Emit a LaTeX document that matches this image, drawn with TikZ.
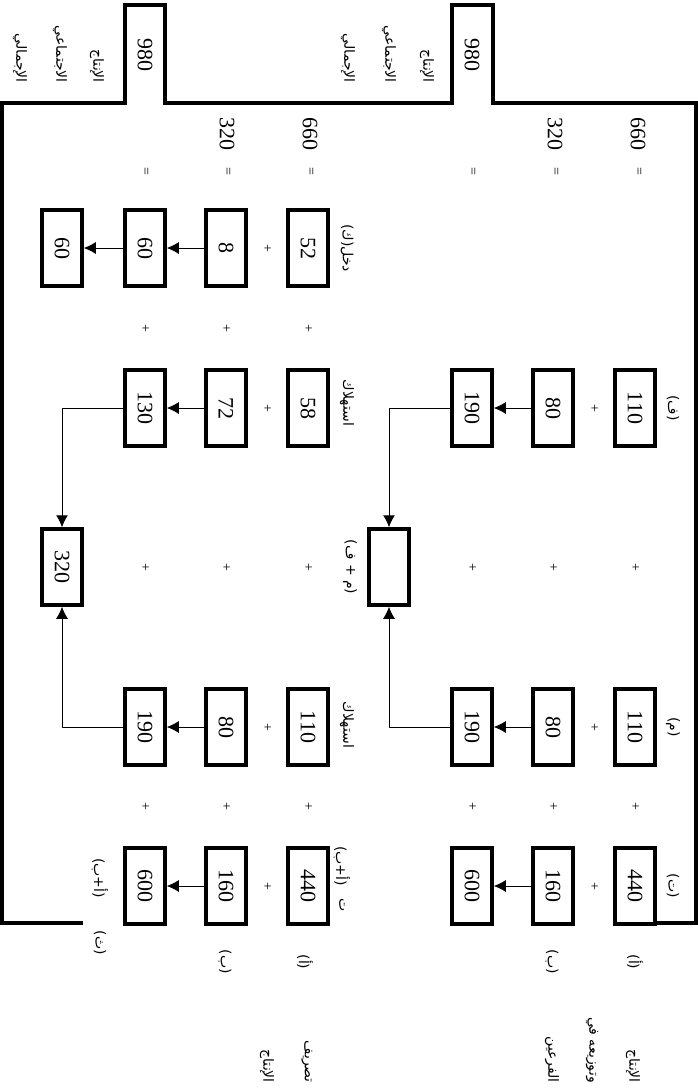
\documentclass[tikz,border=0pt]{standalone}
\usepackage{fontspec}
\setmainfont{Liberation Serif}
\newfontfamily\arabicfont[Script=Arabic]{DejaVu Sans}
\TeXXeTstate=1
\usetikzlibrary{arrows.meta}
\newcommand{\artext}[1]{\beginR #1\endR}
\begin{document}
\begin{tikzpicture}[x=1pt,y=-1pt,line cap=round,line join=round,>={Latex[length=12pt,width=12pt]},
  box/.style={draw,line width=3.5pt,line cap=butt,line join=miter,minimum width=76pt,minimum height=40pt,inner sep=0pt,rotate=-90,font=\fontsize{22}{26}\selectfont},
  txt/.style={rotate=-90,inner sep=0pt,font=\fontsize{22}{26}\selectfont},
  sgn/.style={rotate=-90,inner sep=0pt,font=\fontsize{14}{16}\selectfont},
  lab/.style={rotate=-90,inner sep=0pt,font=\arabicfont\fontsize{14}{16}\selectfont},
  frame/.style={line width=4pt,line cap=butt,line join=miter},
  conn/.style={line width=1pt,->}]
\useasboundingbox (0,0) rectangle (698,1090);
% outer frame with the two 980 tabs
\draw[frame] (83,923) -- (2,923) -- (2,103) -- (125,103) -- (125,5) -- (165,5) -- (165,103)
  -- (452,103) -- (452,5) -- (493,5) -- (493,103) -- (696,103) -- (696,923) -- (655,923);
\node[txt] (l980) at (145,55) {980};
\node[txt] (r980) at (472,55) {980};

% left half
\node[box] (l52) at (308,248) {52};
\node[box] (l8) at (226,248) {8};
\node[box] (l60a) at (145,248) {60};
\node[box] (l60b) at (62,248) {60};
\node[box] (l58) at (308,408) {58};
\node[box] (l72) at (226,408) {72};
\node[box] (l130) at (145,408) {130};
\node[box] (l320) at (62,567) {320};
\node[box] (l110) at (308,727) {110};
\node[box] (l80) at (226,727) {80};
\node[box] (l190) at (145,727) {190};
\node[box] (l440) at (308,886) {440};
\node[box] (l160) at (226,886) {160};
\node[box] (l600) at (145,886) {600};
\draw[conn] (l8.south) -- (l60a.north);
\draw[conn] (l60a.south) -- (l60b.north);
\draw[conn] (l72.south) -- (l130.north);
\draw[conn] (l80.south) -- (l190.north);
\draw[conn] (l160.south) -- (l600.north);
\draw[conn] (l130.south) -| (l320.west);
\draw[conn] (l190.south) -| (l320.east);

% right half
\node[box] (r110a) at (635,408) {110};
\node[box] (r80a) at (553,408) {80};
\node[box] (r190a) at (472,408) {190};
\node[box] (rsum) at (389,567) {};
\node[box] (r110b) at (635,727) {110};
\node[box] (r80b) at (553,727) {80};
\node[box] (r190b) at (472,727) {190};
\node[box] (r440) at (635,886) {440};
\node[box] (r160) at (553,886) {160};
\node[box] (r600) at (472,886) {600};
\draw[conn] (r80a.south) -- (r190a.north);
\draw[conn] (r80b.south) -- (r190b.north);
\draw[conn] (r160.south) -- (r600.north);
\draw[conn] (r190a.south) -| (rsum.west);
\draw[conn] (r190b.south) -| (rsum.east);

% totals and signs
\node[txt] (l660t) at (310,134) {660};
\node[txt] (l320t) at (227,134) {320};
\node[txt] (r660t) at (638,134) {660};
\node[txt] (r320t) at (555,134) {320};
\foreach \x in {145,227,310,472,555,638}
  \node[sgn] (eq-\x) at (\x,171) {=};
\foreach \x in {145,226,308}
  \foreach \y in {328,567,806}
    \node[sgn] (lp-\x-\y) at (\x,\y) {+};
\foreach \y in {248,408,727,886}
  \node[sgn] (lc-\y) at (267,\y) {+};
\foreach \x in {472,553,635}
  \foreach \y in {567,806}
    \node[sgn] (rp-\x-\y) at (\x,\y) {+};
\foreach \y in {408,727,886}
  \node[sgn] (rc-\y) at (594,\y) {+};

% labels
\node[lab,anchor=east] (ltop1) at (97,83) {\artext{الإنتاج}};
\node[lab,anchor=east] (ltop2) at (60,83) {\artext{الاجتماعي}};
\node[lab,anchor=east] (ltop3) at (20,83) {\artext{الإجمالي}};
\node[lab,anchor=east] (rtop1) at (427,83) {\artext{الإنتاج}};
\node[lab,anchor=east] (rtop2) at (389,83) {\artext{الاجتماعي}};
\node[lab,anchor=east] (rtop3) at (348,83) {\artext{الإجمالي}};
\node[lab,anchor=east] (lbot1) at (307,1083) {\artext{تصريف}};
\node[lab,anchor=east] (lbot2) at (267,1083) {\artext{الإنتاج}};
\node[lab,anchor=east] (rbot1) at (633,1083) {\artext{الإنتاج}};
\node[lab,anchor=east] (rbot2) at (592,1083) {\artext{وتوزيعه في}};
\node[lab,anchor=east] (rbot3) at (552,1083) {\artext{الفرعين}};
\node[lab] (la) at (305,962) {\artext{(أ)}};
\node[lab] (lb) at (225,962) {\artext{(ب)}};
\node[lab] (lth) at (100,943) {\artext{(ث)}};
\node[lab] (lab2) at (100,878) {\artext{(أ+ب)}};
\node[lab] (lab1) at (342,866) {\artext{(أ+ب)}};
\node[lab] (lt) at (342,905) {\artext{ت}};
\node[lab] (lk) at (347,248) {\artext{دخل(ك)}};
\node[lab] (lc1) at (347,403) {\artext{استهلاك}};
\node[lab] (lc2) at (347,725) {\artext{استهلاك}};
\node[lab] (ra) at (635,962) {\artext{(أ)}};
\node[lab] (rb) at (552,962) {\artext{(ب)}};
\node[lab] (rt) at (673,886) {\artext{(ت)}};
\node[lab] (rm) at (673,727) {\artext{(م)}};
\node[lab] (rf) at (673,408) {\artext{(ف)}};
\node[lab] (rmf) at (350,567) {\artext{(م + ف)}};
\end{tikzpicture}
\end{document}
